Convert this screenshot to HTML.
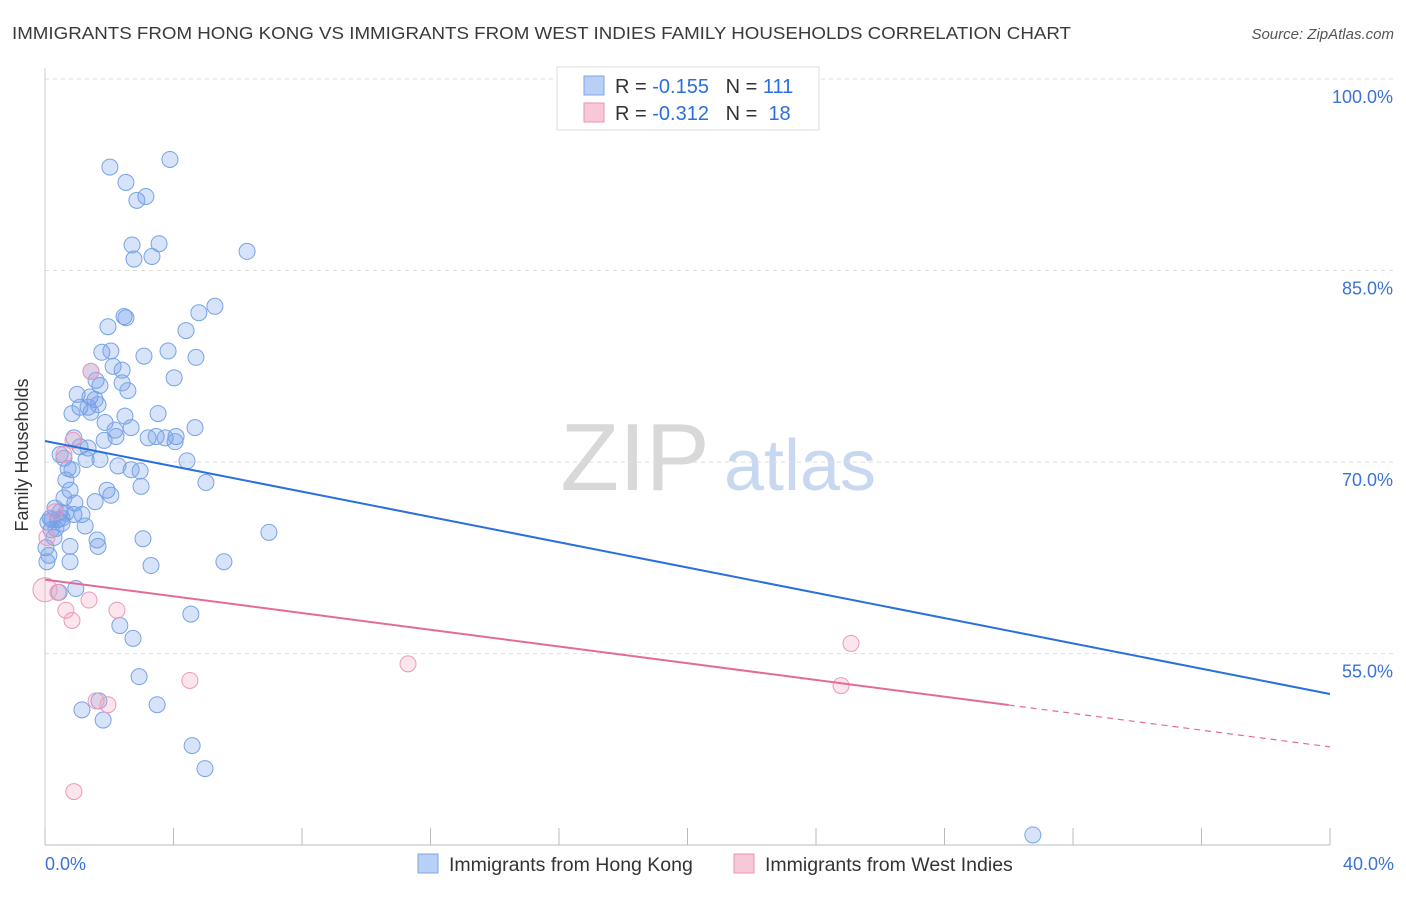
<!DOCTYPE html>
<html><head><meta charset="utf-8"><style>
body{margin:0;background:#fff;font-family:"Liberation Sans",sans-serif;}
svg text{font-family:"Liberation Sans",sans-serif;}
</style></head><body>
<svg id="chart" width="1406" height="892">
<text x="12" y="39" font-size="17.5" fill="#3a3a3a" textLength="1059" lengthAdjust="spacingAndGlyphs">IMMIGRANTS FROM HONG KONG VS IMMIGRANTS FROM WEST INDIES FAMILY HOUSEHOLDS CORRELATION CHART</text>
<text x="1394" y="39" font-size="15" fill="#555" font-style="italic" text-anchor="end">Source: ZipAtlas.com</text>
<g><text x="635" y="490" font-size="96" fill="#d8d8d8" font-family="Liberation Serif" text-anchor="middle">ZIP</text><text x="800" y="490" font-size="72" fill="#c8d8f0" text-anchor="middle">atlas</text></g>
<g id="grid"></g><g id="pts"></g><g id="lines"></g>
<text x="28" y="455" font-size="18" fill="#333" transform="rotate(-90 28 455)" text-anchor="middle">Family Households</text>
<g>
<rect x="557" y="67" width="262" height="63" fill="#fff" stroke="#ddd"/>
<rect x="584" y="76" width="20" height="19" fill="#b8d0f5" stroke="#7fa6e6"/>
<text x="615" y="93" font-size="20" fill="#333">R = <tspan fill="#2a6fdb">-0.155</tspan>&#160;&#160;&#160;N = <tspan fill="#2a6fdb">111</tspan></text>
<rect x="584" y="103" width="20" height="19" fill="#f8c8d8" stroke="#e895b3"/>
<text x="615" y="120" font-size="20" fill="#333">R = <tspan fill="#2a6fdb">-0.312</tspan>&#160;&#160;&#160;N = &#160;<tspan fill="#2a6fdb">18</tspan></text>
</g>
<g>
<rect x="418" y="854" width="20" height="19" fill="#b8d0f5" stroke="#7fa6e6"/>
<text x="449" y="871" font-size="19.5" fill="#333">Immigrants from Hong Kong</text>
<rect x="734" y="854" width="20" height="19" fill="#f8c8d8" stroke="#e895b3"/>
<text x="765" y="871" font-size="19.5" fill="#333">Immigrants from West Indies</text>
</g>
</svg>
<script>
const blueX=[2.02,3.89,2.52,3.14,2.86,2.71,3.55,2.77,3.33,6.29,5.29,4.79,2.52,2.46,4.39,1.96,1.77,2.05,3.08,3.83,4.70,2.12,2.40,1.43,1.59,1.71,2.40,2.58,4.02,1.00,1.40,1.56,1.09,0.84,1.34,1.65,1.43,2.49,3.52,1.87,2.18,2.68,4.67,0.90,1.84,2.21,3.21,3.46,3.74,4.08,4.05,1.09,1.34,0.47,0.59,0.72,1.28,4.42,2.27,2.68,2.96,2.99,0.65,0.78,0.59,1.93,2.05,1.56,5.01,0.93,0.90,1.15,0.31,0.47,0.16,0.40,1.25,0.53,0.09,0.19,0.28,0.78,1.62,1.65,3.05,6.97,0.03,0.12,0.78,3.30,5.57,0.96,0.44,4.54,2.33,2.74,2.93,3.49,1.15,1.68,1.81,4.58,4.98,30.75,0.22,0.34,0.06,0.53,0.65,0.84,1.71];
const blueY=[93.1,93.7,91.9,90.8,90.5,87.0,87.1,85.9,86.1,86.5,82.2,81.7,81.3,81.4,80.3,80.6,78.6,78.7,78.3,78.7,78.2,77.5,77.2,77.1,76.4,76.0,76.2,75.6,76.6,75.3,75.1,74.9,74.3,73.8,74.3,74.5,73.9,73.6,73.8,73.1,72.5,72.7,72.7,71.9,71.7,72.0,71.9,72.0,71.9,72.0,71.6,71.2,71.1,70.6,70.3,69.5,70.2,70.1,69.7,69.4,69.3,68.1,68.6,67.8,67.2,67.8,67.4,66.9,68.4,66.8,65.9,65.9,66.4,66.1,65.6,65.5,65.0,65.2,65.3,64.7,64.1,63.4,63.9,63.4,64.0,64.5,63.3,62.7,62.2,61.9,62.2,60.1,59.8,58.1,57.2,56.2,53.2,51.0,50.6,51.3,49.8,47.8,46.0,40.8,65.5,64.8,62.2,65.6,66.0,69.4,70.2];
const pinkX=[1.43,0.87,0.59,0.31,0.06,0.0,0.40,0.65,0.84,1.37,2.24,4.51,1.96,1.59,11.3,25.09,24.78,0.90];
const pinkY=[77.1,71.7,70.6,66.1,64.1,60.0,59.8,58.4,57.6,59.2,58.4,52.9,51.0,51.3,54.2,55.8,52.5,44.2];
const blueTrend=[71.65,51.84];
const pinkTrend=[60.8,47.7];
const pinkSolidEnd=30.0;
const yTicks=[100,85,70,55];
const xTickLabels=["0.0%","40.0%"];
const NS="http://www.w3.org/2000/svg";
const X=v=>45+v*32.125, Y=v=>79+(100-v)*12.77;
function mk(t,a,p){const e=document.createElementNS(NS,t);for(const k in a)e.setAttribute(k,a[k]);p.appendChild(e);return e;}
const grid=document.getElementById('grid');
yTicks.forEach(t=>{
 const l=mk('line',{x1:45,x2:1394,y1:Y(t),y2:Y(t),stroke:'#ddd','stroke-dasharray':'4,4'},grid);
 
 
 const tx=mk('text',{x:1393,y:Y(t)+24,'font-size':18,fill:'#3a73d4','text-anchor':'end'},grid);
 tx.textContent=t.toFixed(1)+'%';
 
 
});
const ax=mk('line',{x1:45,x2:1330,y1:845,y2:845,stroke:'#bbb'},grid);


const ay=mk('line',{x1:45,x2:45,y1:68,y2:845,stroke:'#ccc'},grid);


for(let i=0;i<=10;i++){const t=mk('line',{x1:X(i*4),x2:X(i*4),y1:828,y2:845,stroke:'#bbb'},grid);
 
 }
[[0,'start',45],[40,'end',1394]].forEach((d,i)=>{const t=mk('text',{x:d[2],y:870,'font-size':18,fill:'#3a73d4','text-anchor':d[1]},grid);t.textContent=xTickLabels[i];
 
 });
const pts=document.getElementById('pts');
blueX.forEach((x,i)=>{const c=mk('circle',{cx:X(x),cy:Y(blueY[i]),r:8,fill:'rgba(110,155,235,0.28)',stroke:'#78a3e6','stroke-width':1},pts);
 
 });
pinkX.forEach((x,i)=>{const c=mk('circle',{cx:X(x),cy:Y(pinkY[i]),r:i==5?12:8,fill:'rgba(245,160,190,0.28)',stroke:'#eb9ab7','stroke-width':1},pts);
 
 });
const lines=document.getElementById('lines');
const bl=mk('line',{x1:X(0),y1:Y(blueTrend[0]),x2:X(40),y2:Y(blueTrend[1]),stroke:'#2a6fdb','stroke-width':2},lines);


const pe=pinkTrend[0]+(pinkTrend[1]-pinkTrend[0])*pinkSolidEnd/40;
const pl=mk('line',{x1:X(0),y1:Y(pinkTrend[0]),x2:X(pinkSolidEnd),y2:Y(pe),stroke:'#e36b9a','stroke-width':2},lines);


const pd=mk('line',{x1:X(pinkSolidEnd),y1:Y(pe),x2:X(40),y2:Y(pinkTrend[1]),stroke:'#e36b9a','stroke-width':1.2,'stroke-dasharray':'6,5'},lines);


</script>
</body></html>
